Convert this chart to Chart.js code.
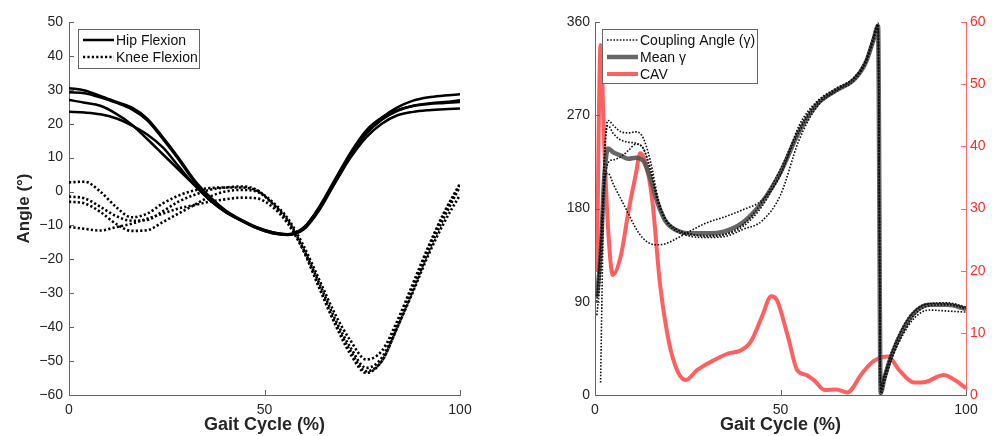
<!DOCTYPE html>
<html>
<head>
<meta charset="utf-8">
<script src="https://cdn.jsdelivr.net/npm/chart.js@4.4.1/dist/chart.umd.min.js"></script>
<style>
  body { margin: 0; background: #fff; }
  .panel { position: absolute; top: 0; width: 496px; height: 436px; }
  #left  { left: 0; }
  #right { left: 496px; }
</style>
</head>
<body>
<div class="panel" id="left"><canvas id="jointChart" width="496" height="436"></canvas></div>
<div class="panel" id="right"><canvas id="couplingChart" width="496" height="436"></canvas></div>
<script>
// ---- left panel: joint angles (% gait cycle) ----
const GAIT_X = [0, 4, 8, 12, 16, 20, 24, 28, 32, 36, 40, 44, 48, 52, 56, 60, 64, 68, 72, 76, 80, 84, 88, 92, 96, 100];

const HIP_1 = [30.5, 29.8, 28.2, 26.5, 24.8, 21.5, 16, 10, 3.5, -1.5, -5.5, -8.3, -10.5, -12, -12.6, -11, -5, 3, 11, 17.5, 21.8, 24.8, 26.8, 27.8, 28.3, 28.7];
const HIP_2 = [29.3, 29, 27.8, 26.2, 24.3, 21, 15.5, 9.5, 3, -2, -5.8, -8.5, -10.8, -12.2, -12.7, -11.2, -5.5, 2.5, 10.5, 17, 21.2, 23.8, 25.3, 26, 26.4, 26.9];
const HIP_3 = [27, 26.2, 25.3, 23, 19.8, 15.5, 11, 6.5, 2, -2.5, -6, -8.6, -10.8, -12.3, -12.8, -10.8, -4.5, 3.5, 11.5, 18, 21.8, 24, 25.2, 25.8, 26.1, 26.4];
const HIP_4 = [23.5, 23.3, 22.8, 21.6, 19.5, 16.8, 13, 7.5, 2, -2.5, -6, -8.4, -10.6, -12, -12.6, -10.6, -4.8, 2.5, 10, 16, 20, 22.5, 23.5, 24, 24.3, 24.5];

const KNEE_1 = [2.7, 2.9, 0, -4.5, -7.6, -6.5, -3.5, -1.2, 0.3, 1, 1.2, 1.2, 0.3, -3, -8, -16, -26, -36, -44, -49.5, -47, -38, -27, -16, -6, 2.3];
const KNEE_2 = [-1.5, -2, -4.5, -7.2, -8.6, -8.4, -5.8, -3, -1, 0.5, 1.2, 1.5, 0.5, -3.5, -8.5, -17, -27, -37.5, -46, -52, -49, -39, -28, -16.5, -6.5, 2];
const KNEE_3 = [-3, -3.5, -6, -9.5, -11.6, -11.4, -9, -6.5, -4, -1.5, 0, 0.5, 0, -3.5, -9, -17.5, -28, -38.5, -47, -53, -50, -40, -29, -17.5, -7.5, 1.5];
const KNEE_4 = [-10.4, -11, -11.5, -10.5, -9.5, -8, -6.5, -5, -4, -3, -2.3, -1.8, -2, -4.5, -9.5, -17.5, -28.5, -39, -48, -53.5, -50, -40, -29.5, -18.5, -9, -1];

// ---- right panel: coupling angle (deg) and CAV ----
const COUPLING_X = [0.5, 1.5, 2.5, 3.5, 5, 7, 9, 11, 13, 15, 17, 19, 22, 26, 30, 35, 40, 45, 50, 55, 60, 65, 70, 73, 75, 76.3, 77, 78, 80, 83, 86, 90, 95, 100];

const GAMMA_A = [null, 12, 215, 265, 260, 254, 253, 254, 248, 225, 190, 170, 160, 155, 154, 155, 163, 182, 214, 254, 281, 294, 306, 322, 343, 357, 3, 15, 36, 60, 77, 86, 87, 83];
const GAMMA_B = [77, 120, 230, 260, 252, 246, 244, 243, 238, 218, 188, 170, 160, 155, 153, 155, 165, 186, 218, 257, 283, 295, 307, 323, 345, 358, 8, 20, 42, 66, 81, 88, 88, 84];
const GAMMA_C = [95, 140, 200, 224, 227, 230, 236, 242, 238, 215, 185, 168, 158, 153, 152, 153, 160, 168, 193, 246, 279, 293, 304, 320, 340, 354, 0, 12, 35, 58, 74, 82, 81, 80];
const GAMMA_D = [90, 150, 205, 214, 203, 189, 175, 161, 151, 146, 145, 146, 151, 159, 166, 172, 179, 188, 212, 260, 284, 296, 307, 324, 346, 359, 5, 18, 40, 64, 80, 88, 89, 85];
const GAMMA_MEAN = [95, 135, 210, 238, 234, 231, 228, 229, 226, 208, 184, 168, 159, 156, 156, 158, 167, 186, 215, 254, 281, 294, 305, 321, 342, 356, 2, 16, 39, 63, 79, 87, 87, 83];

const CAV_X = [0.5, 1.5, 2.5, 3.5, 4.8, 7, 9, 11, 12.2, 14, 15.5, 17.5, 20, 22.5, 24.5, 27.5, 32, 36, 39, 42, 45, 47.5, 49, 52, 54.5, 57, 59, 62, 65, 68, 72, 75, 79, 82, 86, 89, 94, 97, 100];
const CAV = [19.8, 56.3, 40, 27, 19.3, 22.5, 29.5, 35.5, 38.9, 36.5, 31, 18, 8.3, 3.5, 2.4, 4, 5.6, 6.7, 7.1, 8.6, 12.6, 15.9, 15.3, 9.4, 4, 3.2, 2.4, 0.8, 0.9, 0.4, 3.5, 5.4, 6.2, 4, 2, 2.1, 3.2, 2.4, 1.1];

const X_TICKS = [0, 50, 100];
const LEFT_LEGEND = ['Hip Flexion', 'Knee Flexion'];
const RIGHT_LEGEND = ['Coupling Angle (\u03b3)', 'Mean \u03b3', 'CAV'];

Chart.defaults.font.family = '"Liberation Sans", Arial, Helvetica, sans-serif';
Chart.defaults.font.size = 14;
Chart.defaults.color = '#262626';

const pts = (xs, ys) => xs.map((x, i) => ({ x, y: ys[i] }));
const minus = v => String(v).replace('-', '\u2212');

function line(data, color, width, dash, extra) {
  return Object.assign({
    data, borderColor: color, borderWidth: width, borderDash: dash || [],
    pointRadius: 0, fill: false, cubicInterpolationMode: 'monotone',
  }, extra || {});
}

// MATLAB-style inward tick marks
const innerTicks = {
  id: 'innerTicks',
  afterDraw(chart) {
    const ctx = chart.ctx, a = chart.chartArea;
    ctx.save();
    ctx.lineWidth = 1;
    Object.values(chart.scales).forEach(s => {
      ctx.strokeStyle = s.options.border.color;
      s.ticks.forEach(t => {
        const p = Math.round(s.getPixelForValue(t.value)) + 0.5;
        ctx.beginPath();
        if (s.axis === 'x') { ctx.moveTo(p, a.bottom); ctx.lineTo(p, a.bottom - 5); }
        else if (s.position === 'left') { ctx.moveTo(a.left, p); ctx.lineTo(a.left + 5, p); }
        else { ctx.moveTo(a.right, p); ctx.lineTo(a.right - 5, p); }
        ctx.stroke();
      });
    });
    ctx.restore();
  }
};

// boxed legend drawn inside the plot, top-left
const boxLegend = {
  id: 'boxLegend',
  afterDatasetsDraw(chart, args, o) {
    const ctx = chart.ctx, a = chart.chartArea;
    const x = a.left + o.x, y = a.top + o.y;
    ctx.save();
    ctx.fillStyle = '#fff';
    ctx.fillRect(x, y, o.w, o.h);
    ctx.strokeStyle = '#666';
    ctx.lineWidth = 1;
    ctx.strokeRect(x + 0.5, y + 0.5, o.w, o.h);
    ctx.font = '14px "Liberation Sans", Arial, sans-serif';
    ctx.textBaseline = 'middle';
    o.items.forEach((it, i) => {
      const ds = chart.data.datasets[it.ds];
      const yy = y + o.row0 + i * o.rowH;
      ctx.beginPath();
      ctx.setLineDash(ds.borderDash || []);
      ctx.strokeStyle = ds.borderColor;
      ctx.lineWidth = ds.borderWidth;
      ctx.moveTo(x + 5, yy);
      ctx.lineTo(x + 36, yy);
      ctx.stroke();
      ctx.setLineDash([]);
      ctx.fillStyle = '#111';
      ctx.fillText(it.text, x + 38, yy + 1);
    });
    ctx.restore();
  }
};

function xScale() {
  return {
    type: 'linear', min: 0, max: 100,
    afterBuildTicks: s => { s.ticks = X_TICKS.map(v => ({ value: v })); },
    afterFit: s => { s.height = 41; },
    grid: { display: false, drawTicks: false },
    border: { display: true, color: '#666', width: 1 },
    ticks: { padding: 7, maxRotation: 0, font: { size: 14 } },
    title: { display: true, text: 'Gait Cycle (%)', font: { size: 18, weight: 'bold' }, color: '#262626', padding: { top: 0, bottom: 0 } },
  };
}

new Chart(document.getElementById('jointChart'), {
  type: 'line',
  data: {
    datasets: [
      line(pts(GAIT_X, HIP_1), '#000', 2.5),
      line(pts(GAIT_X, HIP_2), '#000', 2.5),
      line(pts(GAIT_X, HIP_3), '#000', 2.5),
      line(pts(GAIT_X, HIP_4), '#000', 2.5),
      line(pts(GAIT_X, KNEE_1), '#000', 2.6, [2.2, 2.2]),
      line(pts(GAIT_X, KNEE_2), '#000', 2.6, [2.2, 2.2]),
      line(pts(GAIT_X, KNEE_3), '#000', 2.6, [2.2, 2.2]),
      line(pts(GAIT_X, KNEE_4), '#000', 2.6, [2.2, 2.2]),
    ],
  },
  options: {
    responsive: false, animation: false, devicePixelRatio: 1,
    layout: { padding: { top: 22, right: 36, left: 0, bottom: 0 } },
    plugins: {
      legend: { display: false }, tooltip: { enabled: false },
      boxLegend: { x: 9, y: 7, w: 121, h: 39, row0: 11, rowH: 17,
        items: [{ ds: 0, text: LEFT_LEGEND[0] }, { ds: 4, text: LEFT_LEGEND[1] }] },
    },
    scales: {
      x: xScale(),
      y: {
        min: -60, max: 50,
        afterFit: s => { s.width = 69; },
        grid: { display: false, drawTicks: false },
        border: { display: true, color: '#666', width: 1 },
        ticks: { stepSize: 10, padding: 6, callback: minus, font: { size: 14 } },
        title: { display: true, text: 'Angle (\u00b0)', font: { size: 17, weight: 'bold' }, color: '#262626', padding: { top: 14, bottom: 0 } },
      },
    },
  },
  plugins: [innerTicks, boxLegend],
});

new Chart(document.getElementById('couplingChart'), {
  type: 'line',
  data: {
    datasets: [
      line(pts(COUPLING_X, GAMMA_A), '#111', 1.6, [1.6, 1.6], { yAxisID: 'y' }),
      line(pts(COUPLING_X, GAMMA_B), '#111', 1.6, [1.6, 1.6], { yAxisID: 'y' }),
      line(pts(COUPLING_X, GAMMA_C), '#111', 1.6, [1.6, 1.6], { yAxisID: 'y' }),
      line(pts(COUPLING_X, GAMMA_D), '#111', 1.6, [1.6, 1.6], { yAxisID: 'y' }),
      line(pts(COUPLING_X, GAMMA_MEAN), 'rgba(85,85,85,0.9)', 4.5, null, { yAxisID: 'y' }),
      line(pts(CAV_X, CAV), 'rgba(255,50,50,0.78)', 4, null, { yAxisID: 'y2' }),
    ],
  },
  options: {
    responsive: false, animation: false, devicePixelRatio: 1,
    layout: { padding: { top: 22, right: 0, left: 0, bottom: 0 } },
    plugins: {
      legend: { display: false }, tooltip: { enabled: false },
      boxLegend: { x: 7, y: 7, w: 155, h: 54, row0: 11, rowH: 17,
        items: [{ ds: 0, text: RIGHT_LEGEND[0] }, { ds: 4, text: RIGHT_LEGEND[1] }, { ds: 5, text: RIGHT_LEGEND[2] }] },
    },
    scales: {
      x: xScale(),
      y: {
        position: 'left', min: 0, max: 360,
        afterFit: s => { s.width = 99; },
        grid: { display: false, drawTicks: false },
        border: { display: true, color: '#666', width: 1 },
        ticks: { stepSize: 90, padding: 5, font: { size: 14 } },
      },
      y2: {
        position: 'right', min: 0, max: 60,
        afterFit: s => { s.width = 26; },
        grid: { display: false, drawTicks: false },
        border: { display: true, color: 'rgba(255,40,40,0.7)', width: 1 },
        ticks: { stepSize: 10, padding: 4, color: '#ff2a2a', font: { size: 14 } },
      },
    },
  },
  plugins: [innerTicks, boxLegend],
});
</script>
</body>
</html>
